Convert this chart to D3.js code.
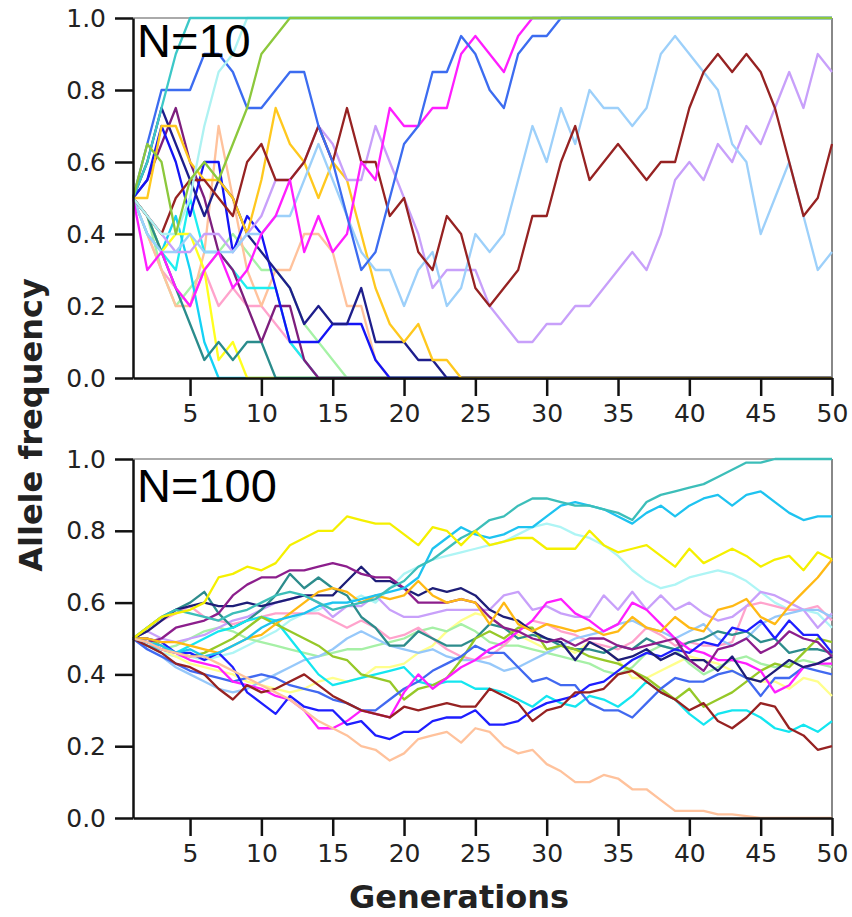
<!DOCTYPE html>
<html>
<head>
<meta charset="utf-8">
<script src="https://cdn.jsdelivr.net/npm/d3@7/dist/d3.min.js"></script>
<style>
  body { margin: 0; background: #fff; }
</style>
</head>
<body>
<script>
// x: generations 1..50, y: allele frequency
var generations = d3.range(1, 51);
var xTickValues = [5, 10, 15, 20, 25, 30, 35, 40, 45, 50];
var yTickValues = [0, 0.2, 0.4, 0.6, 0.8, 1.0];

// ---- N=10 runs (steps of 0.05) ----
var t_pink = [.5,.4,.3,.25,.2,.3,.2,.25,.2,.2, .15,.1,.05,0,0,0,0,0,0,0, 0,0,0,0,0,0,0,0,0,0, 0,0,0,0,0,0,0,0,0,0, 0,0,0,0,0,0,0,0,0,0];
var t_paleGreen = [.5,.45,.3,.2,.25,.3,.35,.4,.35,.3, .3,.25,.15,.1,.05,0,0,0,0,0, 0,0,0,0,0,0,0,0,0,0, 0,0,0,0,0,0,0,0,0,0, 0,0,0,0,0,0,0,0,0,0];
var t_peach = [.5,.4,.3,.2,.2,.35,.7,.5,.3,.2, .3,.3,.4,.4,.35,.2,.2,.05,0,0, 0,0,0,0,0,0,0,0,0,0, 0,0,0,0,0,0,0,0,0,0, 0,0,0,0,0,0,0,0,0,0];
var t_cyanB = [.5,.4,.35,.3,.5,.35,.35,.3,.25,.25, .25,.1,.05,0,0,0,0,0,0,0, 0,0,0,0,0,0,0,0,0,0, 0,0,0,0,0,0,0,0,0,0, 0,0,0,0,0,0,0,0,0,0];
var t_cyanA = [.5,.45,.35,.45,.3,.1,0,0,0,0, 0,0,0,0,0,0,0,0,0,0, 0,0,0,0,0,0,0,0,0,0, 0,0,0,0,0,0,0,0,0,0, 0,0,0,0,0,0,0,0,0,0];
var t_yellow = [.5,.45,.35,.4,.4,.3,.05,.1,0,0, 0,0,0,0,0,0,0,0,0,0, 0,0,0,0,0,0,0,0,0,0, 0,0,0,0,0,0,0,0,0,0, 0,0,0,0,0,0,0,0,0,0];
var t_darkTeal = [.5,.45,.35,.25,.15,.05,.1,.05,.1,.1, 0,0,0,0,0,0,0,0,0,0, 0,0,0,0,0,0,0,0,0,0, 0,0,0,0,0,0,0,0,0,0, 0,0,0,0,0,0,0,0,0,0];
var t_purple = [.5,.55,.65,.75,.6,.5,.35,.3,.2,.1, .2,.2,.05,0,0,0,0,0,0,0, 0,0,0,0,0,0,0,0,0,0, 0,0,0,0,0,0,0,0,0,0, 0,0,0,0,0,0,0,0,0,0];
var t_blue = [.5,.55,.7,.6,.45,.6,.6,.35,.45,.4, .25,.1,.1,.1,.15,.15,.15,.05,0,0, 0,0,0,0,0,0,0,0,0,0, 0,0,0,0,0,0,0,0,0,0, 0,0,0,0,0,0,0,0,0,0];
var t_navy = [.5,.6,.75,.65,.55,.45,.55,.5,.4,.35, .3,.25,.15,.2,.15,.15,.25,.1,.1,.1, .05,.05,0,0,0,0,0,0,0,0, 0,0,0,0,0,0,0,0,0,0, 0,0,0,0,0,0,0,0,0,0];
var t_gold = [.5,.5,.7,.7,.6,.55,.55,.5,.4,.55, .75,.65,.6,.5,.6,.55,.4,.25,.15,.1, .15,.05,.05,0,0,0,0,0,0,0, 0,0,0,0,0,0,0,0,0,0, 0,0,0,0,0,0,0,0,0,0];
var t_lavender = [.5,.45,.4,.35,.35,.4,.4,.35,.4,.45, .55,.55,.6,.7,.65,.55,.55,.7,.6,.5, .4,.25,.3,.3,.3,.2,.15,.1,.1,.15, .15,.2,.2,.25,.3,.35,.3,.4,.55,.6, .55,.65,.6,.7,.65,.75,.85,.75,.9,.85];
var t_lightBlue = [.5,.4,.35,.35,.4,.35,.35,.35,.4,.4, .45,.45,.55,.65,.55,.45,.35,.3,.3,.2, .3,.35,.2,.25,.4,.35,.4,.55,.7,.6, .75,.65,.8,.75,.75,.7,.75,.9,.95,.9, .85,.8,.65,.6,.4,.5,.6,.45,.3,.35];
var t_brown = [.5,.45,.4,.5,.55,.55,.5,.45,.6,.65, .55,.55,.6,.7,.6,.75,.6,.6,.45,.5, .35,.3,.45,.4,.25,.2,.25,.3,.45,.45, .6,.7,.55,.6,.65,.6,.55,.6,.6,.75, .85,.9,.85,.9,.85,.75,.6,.45,.5,.65];
var t_magenta = [.5,.3,.35,.25,.2,.3,.35,.25,.3,.4, .45,.55,.35,.45,.35,.4,.6,.55,.75,.7, .7,.75,.75,.9,.95,.9,.85,.95,1,1, 1,1,1,1,1,1,1,1,1,1, 1,1,1,1,1,1,1,1,1,1];
var t_royal = [.5,.65,.8,.8,.8,.9,.9,.85,.75,.75, .8,.85,.85,.7,.6,.45,.3,.35,.5,.65, .7,.85,.85,.95,.9,.8,.75,.9,.95,.95, 1,1,1,1,1,1,1,1,1,1, 1,1,1,1,1,1,1,1,1,1];
var t_paleCyan = [.5,.45,.4,.4,.5,.7,.85,.9,1,1, 1,1,1,1,1,1,1,1,1,1, 1,1,1,1,1,1,1,1,1,1, 1,1,1,1,1,1,1,1,1,1, 1,1,1,1,1,1,1,1,1,1];
var t_teal = [.5,.6,.75,.9,1,1,1,1,1,1, 1,1,1,1,1,1,1,1,1,1, 1,1,1,1,1,1,1,1,1,1, 1,1,1,1,1,1,1,1,1,1, 1,1,1,1,1,1,1,1,1,1];
var t_yellowGreen = [.5,.65,.6,.4,.55,.6,.55,.65,.75,.9, .95,1,1,1,1,1,1,1,1,1, 1,1,1,1,1,1,1,1,1,1, 1,1,1,1,1,1,1,1,1,1, 1,1,1,1,1,1,1,1,1,1];

// ---- N=100 runs ----
var b_peach = [.5,.49,.47,.46,.45,.45,.43,.41,.39,.37,.35,.33,.3,.27,.25,.23, .2,.19,.16,.18,.22,.23,.24,.21,.25,.24,.2,.18,.19,.15,.13,.1,.1, .12,.11,.08,.08,.05,.02,.02,.02,.01,.01,.005,0,0,0,0,0,0];
var b_paleTurq = [.5,.48,.46,.45,.45,.44,.45,.46,.48,.5,.52,.55,.57,.58,.6,.6, .62,.6,.64,.68,.7,.72,.73,.74,.75,.76,.77,.79,.81,.82,.81,.79,.78, .76,.73,.69,.66,.64,.65,.67,.68,.69,.68,.66,.63,.6,.58,.58,.57,.53];
var b_lightYellow = [.5,.49,.47,.45,.43,.42,.41,.4,.38,.37,.36,.35,.36,.38,.39,.38, .39,.42,.42,.43,.46,.48,.52,.55,.57,.56,.53,.51,.49,.47,.48,.46,.49, .47,.44,.39,.39,.41,.43,.45,.44,.43,.41,.39,.38,.38,.36,.39,.38,.34];
var b_paleGreen = [.5,.48,.47,.48,.5,.52,.53,.52,.5,.49,.48,.47,.46,.45,.46,.47, .47,.48,.49,.5,.52,.53,.52,.54,.52,.49,.48,.48,.47,.46,.45,.44,.43, .41,.4,.42,.46,.48,.47,.43,.4,.42,.44,.45,.43,.42,.43,.44,.43,.42];
var b_pink = [.5,.52,.55,.57,.59,.56,.55,.54,.55,.56,.57,.57,.57,.57,.55,.53, .55,.53,.5,.51,.53,.5,.47,.45,.44,.45,.48,.52,.55,.54,.52,.51,.49, .48,.47,.49,.53,.51,.48,.49,.48,.48,.49,.59,.6,.59,.58,.58,.59,.55];
var b_lavender = [.5,.52,.5,.49,.5,.51,.53,.55,.56,.58,.6,.61,.62,.6,.56,.59, .59,.62,.58,.56,.56,.57,.58,.58,.58,.58,.62,.63,.58,.59,.57,.56,.56, .62,.58,.63,.58,.62,.58,.6,.57,.55,.56,.59,.63,.62,.6,.58,.53,.57];
var b_lightBlue = [.5,.47,.45,.42,.4,.38,.36,.35,.36,.38,.4,.42,.44,.45,.47,.5, .52,.5,.48,.47,.46,.47,.45,.44,.44,.43,.41,.42,.44,.46,.48,.5,.51, .52,.54,.55,.53,.52,.5,.52,.54,.5,.48,.5,.54,.56,.57,.58,.58,.56];
var b_darkTeal = [.5,.53,.56,.58,.6,.63,.57,.53,.55,.58,.62,.68,.64,.67,.64,.62, .56,.53,.48,.48,.52,.5,.48,.48,.5,.54,.53,.5,.51,.5,.48,.47,.47, .46,.48,.47,.5,.48,.47,.49,.5,.52,.51,.52,.49,.5,.46,.47,.47,.46];
var b_cyan = [.5,.48,.47,.46,.48,.5,.52,.53,.55,.56,.55,.5,.45,.4,.37,.38, .39,.4,.41,.42,.38,.37,.38,.38,.36,.36,.35,.33,.31,.34,.32,.31,.34, .33,.31,.34,.38,.35,.33,.29,.26,.29,.3,.3,.28,.25,.24,.26,.24,.27];
var b_yellowGreen = [.5,.5,.48,.46,.45,.46,.48,.5,.53,.56,.54,.52,.5,.48,.45,.44, .4,.39,.38,.33,.36,.37,.39,.44,.5,.52,.5,.53,.53,.47,.48,.47,.45, .44,.43,.41,.39,.36,.33,.36,.31,.33,.35,.38,.41,.43,.42,.46,.5,.49];
var b_royal = [.5,.47,.45,.43,.41,.4,.39,.38,.39,.4,.39,.37,.36,.35,.33,.32, .3,.3,.33,.36,.38,.41,.43,.45,.48,.46,.46,.42,.38,.39,.37,.37,.32, .3,.3,.28,.32,.36,.39,.38,.38,.4,.41,.39,.34,.39,.39,.42,.41,.4];
var b_magenta = [.5,.49,.47,.46,.44,.43,.42,.38,.37,.36,.34,.33,.3,.25,.25,.27, .3,.29,.28,.35,.4,.36,.39,.42,.44,.47,.49,.52,.55,.6,.61,.57,.55, .52,.54,.6,.58,.54,.5,.47,.46,.44,.44,.43,.41,.35,.37,.42,.43,.43];
var b_blue = [.5,.5,.49,.46,.46,.44,.46,.42,.35,.32,.29,.34,.31,.3,.3,.26, .27,.23,.22,.24,.24,.27,.28,.28,.3,.26,.26,.27,.3,.32,.33,.34,.37, .38,.41,.44,.46,.45,.47,.46,.49,.48,.53,.52,.55,.5,.55,.51,.51,.46];
var b_maroon = [.5,.48,.46,.43,.42,.4,.36,.33,.37,.35,.36,.38,.4,.37,.34,.32, .3,.29,.28,.31,.3,.31,.32,.31,.31,.36,.34,.32,.27,.3,.31,.35,.35, .36,.4,.41,.38,.35,.33,.3,.32,.27,.25,.28,.32,.31,.25,.23,.19,.2];
var b_navy = [.5,.52,.55,.58,.59,.6,.59,.59,.6,.59,.6,.61,.62,.62,.62,.66, .7,.66,.66,.64,.62,.64,.63,.64,.62,.58,.56,.55,.52,.5,.49,.44,.49, .47,.44,.45,.47,.44,.46,.44,.44,.41,.45,.39,.38,.41,.44,.42,.43,.45];
var b_purple = [.5,.49,.5,.53,.54,.55,.57,.62,.65,.67,.67,.69,.69,.7,.71,.7, .68,.67,.67,.64,.6,.6,.6,.61,.6,.56,.53,.52,.5,.49,.5,.48,.5, .5,.48,.47,.48,.49,.5,.44,.41,.47,.48,.5,.46,.48,.52,.5,.49,.45];
var b_gold = [.5,.5,.49,.49,.48,.47,.46,.48,.5,.51,.54,.57,.6,.63,.64,.63, .6,.62,.61,.62,.66,.62,.6,.61,.6,.54,.6,.54,.52,.54,.53,.52,.53, .51,.52,.56,.53,.52,.56,.53,.52,.58,.59,.61,.56,.54,.59,.63,.67,.72];
var b_deepSky = [.5,.49,.48,.46,.47,.45,.46,.48,.5,.53,.55,.56,.57,.59,.6,.6, .61,.62,.63,.64,.67,.75,.78,.81,.79,.78,.79,.81,.81,.84,.87,.88,.87, .86,.84,.82,.85,.87,.84,.87,.89,.9,.87,.9,.91,.88,.85,.83,.84,.84];
var b_seaGreen = [.5,.53,.56,.58,.57,.56,.55,.57,.58,.6,.62,.63,.62,.6,.58,.59, .6,.61,.64,.66,.7,.72,.75,.78,.8,.83,.84,.87,.89,.89,.88,.87,.87, .86,.85,.83,.88,.9,.91,.92,.93,.95,.97,.99,.99,1,1,1,1,1];
var b_yellow = [.5,.53,.56,.57,.58,.6,.67,.68,.7,.69,.71,.76,.78,.8,.8,.84, .83,.82,.82,.79,.76,.81,.8,.76,.8,.76,.77,.78,.78,.75,.75,.75,.8, .76,.74,.75,.76,.73,.7,.75,.71,.73,.75,.73,.7,.72,.73,.69,.74,.72];

// draw order (last on top) and colours
var runs10 = [
  [t_pink, '#ffa3cc'], [t_paleGreen, '#a6f2a6'], [t_peach, '#ffc29c'], [t_cyanB, '#1eeef0'],
  [t_cyanA, '#14d2f5'], [t_yellow, '#ffff1e'], [t_darkTeal, '#2a8c8c'], [t_purple, '#7d1e7d'],
  [t_blue, '#1414f5'], [t_navy, '#1e1e8c'], [t_gold, '#ffc81e'], [t_lavender, '#c8a0fa'],
  [t_lightBlue, '#9dd0fa'], [t_brown, '#962222'], [t_magenta, '#ff1eff'], [t_royal, '#3c6cf0'],
  [t_paleCyan, '#aef2f2'], [t_teal, '#3cc8c8'], [t_yellowGreen, '#8cc83c']
];
var runs100 = [
  [b_paleTurq, '#aef5f5'], [b_lightYellow, '#ffff8c'], [b_paleGreen, '#a6f0a6'], [b_pink, '#ffa3cc'],
  [b_lavender, '#c8a0fa'], [b_lightBlue, '#96c8fa'], [b_darkTeal, '#2d8c8c'], [b_cyan, '#14e6f0'],
  [b_yellowGreen, '#96c828'], [b_royal, '#4169f0'], [b_magenta, '#ff1eff'], [b_blue, '#1e1eff'],
  [b_maroon, '#962222'], [b_navy, '#1e1e78'], [b_purple, '#8c1e8c'], [b_gold, '#ffb914'],
  [b_deepSky, '#1ec3f0'], [b_seaGreen, '#3cbeb9'], [b_yellow, '#f5f000'], [b_peach, '#ffc29c']
];

var W = 852, H = 917;
var svg = d3.select('body').append('svg').attr('width', W).attr('height', H);
svg.append('rect').attr('width', W).attr('height', H).attr('fill', '#fff');

var left = 133, right = 832;
var x = d3.scaleLinear().domain([1, 50]).range([left, right]);

function panel(top, bottom, runs, label, labelY) {
  var y = d3.scaleLinear().domain([0, 1]).range([bottom, top]);
  var g = svg.append('g');

  // frame top/right in grey
  g.append('line').attr('x1', left).attr('x2', right).attr('y1', top).attr('y2', top)
    .attr('stroke', '#aaa').attr('stroke-width', 2);
  g.append('line').attr('x1', right).attr('x2', right).attr('y1', top).attr('y2', bottom)
    .attr('stroke', '#888').attr('stroke-width', 2);

  var line = d3.line()
    .x(function(d, i) { return x(generations[i]); })
    .y(function(d) { return y(d); });

  g.selectAll('path.run').data(runs).enter().append('path')
    .attr('class', 'run')
    .attr('d', function(r) { return line(r[0]); })
    .attr('fill', 'none')
    .attr('stroke', function(r) { return r[1]; })
    .attr('stroke-width', 2.3)
    .attr('stroke-linejoin', 'round');

  var ya = g.append('g').attr('transform', 'translate(' + left + ',0)')
    .call(d3.axisLeft(y).tickValues(yTickValues).tickFormat(d3.format('.1f'))
      .tickSize(18).tickSizeOuter(0).tickPadding(9));
  var xa = g.append('g').attr('transform', 'translate(0,' + bottom + ')')
    .call(d3.axisBottom(x).tickValues(xTickValues).tickFormat(d3.format('d'))
      .tickSize(18).tickSizeOuter(0).tickPadding(8));

  [ya, xa].forEach(function(a) {
    a.select('.domain').attr('stroke', '#111').attr('stroke-width', 2.5);
    a.selectAll('.tick line').attr('stroke', '#111').attr('stroke-width', 2.5);
    a.selectAll('.tick text').attr('fill', '#222')
      .style('font-family', 'DejaVu Sans').style('font-size', '25px');
  });

  g.append('text').attr('x', left + 4).attr('y', labelY).text(label)
    .style('font-family', 'Liberation Sans, Arial').style('font-size', '47px').attr('fill', '#000');
}

panel(18, 378, runs10, 'N=10', 57);
panel(459, 818, runs100, 'N=100', 502);

svg.append('text').attr('transform', 'translate(42,425) rotate(-90)')
  .attr('text-anchor', 'middle').text('Allele frequency')
  .style('font-family', 'DejaVu Sans').style('font-weight', 'bold').style('font-size', '32px')
  .attr('fill', '#222');

svg.append('text').attr('x', 459).attr('y', 908)
  .attr('text-anchor', 'middle').text('Generations')
  .style('font-family', 'DejaVu Sans').style('font-weight', 'bold').style('font-size', '32px')
  .attr('fill', '#222');
</script>
</body>
</html>
